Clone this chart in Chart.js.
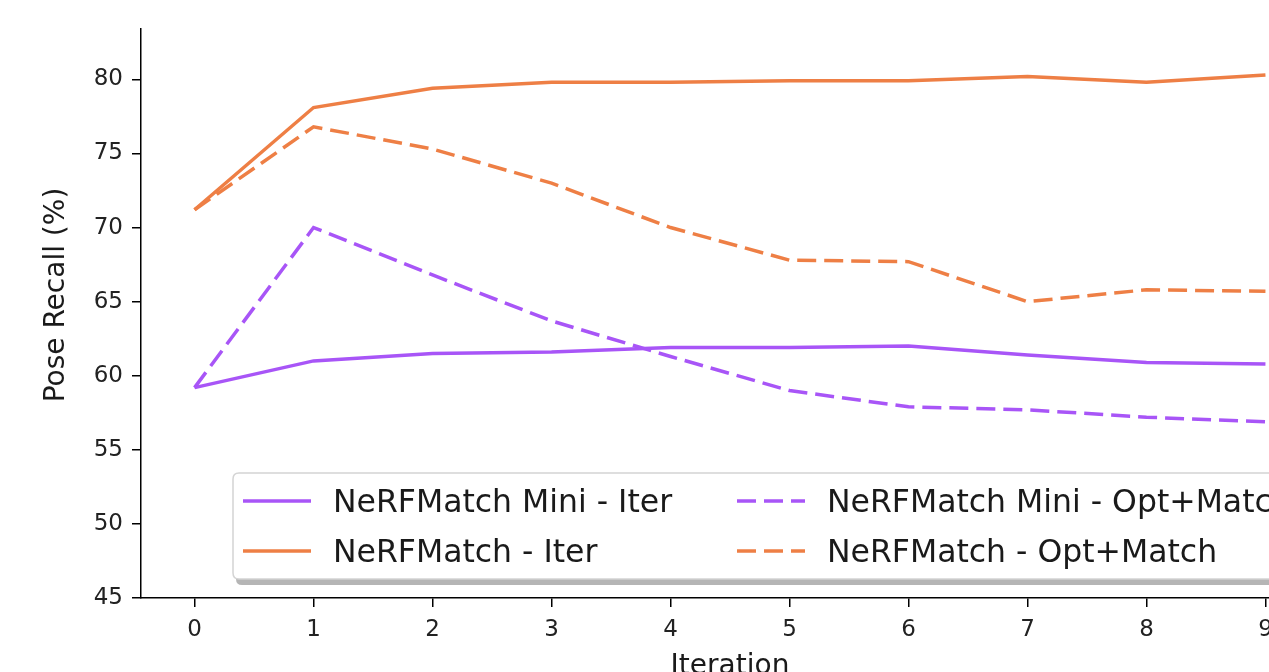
<!DOCTYPE html>
<html><head><meta charset="utf-8">
<script src="https://cdn.jsdelivr.net/npm/chart.js@4/dist/chart.umd.min.js"></script>
<style>
html,body{margin:0;padding:0;background:#fff;overflow:hidden;width:1269px;height:672px}
#wrap{position:absolute;left:0;top:0;width:1340px;height:672px}
canvas{display:block}
</style></head><body>
<div id="wrap"><canvas id="c" width="1340" height="672"></canvas></div>
<script>
// ---- data ----
const iterations = [0, 1, 2, 3, 4, 5, 6, 7, 8, 9];
const miniIter   = [59.2, 61.0, 61.5, 61.6, 61.9, 61.9, 62.0, 61.4, 60.9, 60.8];
const fullIter   = [71.2, 78.1, 79.4, 79.8, 79.8, 79.9, 79.9, 80.2, 79.8, 80.3];
const miniOpt    = [59.2, 70.0, 66.8, 63.7, 61.3, 59.0, 57.9, 57.7, 57.2, 56.9];
const fullOpt    = [71.2, 76.8, 75.3, 73.0, 70.0, 67.8, 67.7, 65.0, 65.8, 65.7];
const seriesLabels = ['NeRFMatch Mini - Iter', 'NeRFMatch - Iter', 'NeRFMatch Mini - Opt+Match', 'NeRFMatch - Opt+Match'];
const yTickValues = [45, 50, 55, 60, 65, 70, 75, 80];
const xTickValues = iterations;
const xTitle = 'Iteration';
const yTitle = 'Pose Recall (%)';

const PURPLE = '#a855f7';
const ORANGE = '#ee7f45';
const FONT = '"DejaVu Sans", "Liberation Sans", sans-serif';

const toPts = ys => iterations.map((x, i) => ({x: x, y: ys[i]}));

function rr(ctx, x, y, w, h, r) {
  ctx.beginPath();
  ctx.moveTo(x + r, y);
  ctx.lineTo(x + w - r, y); ctx.quadraticCurveTo(x + w, y, x + w, y + r);
  ctx.lineTo(x + w, y + h - r); ctx.quadraticCurveTo(x + w, y + h, x + w - r, y + h);
  ctx.lineTo(x + r, y + h); ctx.quadraticCurveTo(x, y + h, x, y + h - r);
  ctx.lineTo(x, y + r); ctx.quadraticCurveTo(x, y, x + r, y);
  ctx.closePath();
}

const mplDecor = {
  id: 'mplDecor',
  afterDraw(chart) {
    const ctx = chart.ctx;
    ctx.save();
    // y axis title
    ctx.translate(57, 295);
    ctx.rotate(-Math.PI / 2);
    ctx.font = '28px ' + FONT;
    ctx.fillStyle = '#1a1a1a';
    ctx.textAlign = 'center';
    ctx.textBaseline = 'middle';
    ctx.fillText(yTitle, 0, 0);
    ctx.restore();

    // legend
    ctx.save();
    const x0 = 233, y0 = 473, w = 1075, h = 106, r = 6;
    ctx.fillStyle = 'rgba(120,120,120,0.55)';
    rr(ctx, x0 + 3, y0 + 6, w, h, r); ctx.fill();
    ctx.fillStyle = '#ffffff';
    rr(ctx, x0, y0, w, h, r); ctx.fill();
    ctx.strokeStyle = '#d4d4d4'; ctx.lineWidth = 1.5; ctx.stroke();
    const colX = [243, 737], rowY = [501, 551];
    chart.data.datasets.forEach((ds, i) => {
      const cx = colX[Math.floor(i / 2)], cy = rowY[i % 2];
      ctx.beginPath();
      ctx.setLineDash(ds.borderDash || []);
      ctx.strokeStyle = ds.borderColor;
      ctx.lineWidth = ds.borderWidth;
      ctx.lineCap = 'butt';
      ctx.moveTo(cx, cy); ctx.lineTo(cx + 68, cy); ctx.stroke();
      ctx.setLineDash([]);
      ctx.font = '31.5px ' + FONT;
      ctx.fillStyle = '#1a1a1a';
      ctx.textAlign = 'left';
      ctx.textBaseline = 'alphabetic';
      ctx.fillText(ds.label, cx + 90, cy + 11);
    });
    ctx.restore();
  }
};

new Chart(document.getElementById('c'), {
  type: 'line',
  data: {
    datasets: [
      {label: seriesLabels[0], data: toPts(miniIter), borderColor: PURPLE, borderWidth: 3.5, borderDash: [], order: 1},
      {label: seriesLabels[1], data: toPts(fullIter), borderColor: ORANGE, borderWidth: 3.5, borderDash: [], order: 2},
      {label: seriesLabels[2], data: toPts(miniOpt), borderColor: PURPLE, borderWidth: 3.5, borderDash: [19, 8], order: 3},
      {label: seriesLabels[3], data: toPts(fullOpt), borderColor: ORANGE, borderWidth: 3.5, borderDash: [19, 8], order: 4}
    ].map(d => Object.assign({pointRadius: 0, pointHoverRadius: 0, tension: 0, fill: false, borderCapStyle: 'butt'}, d))
  },
  options: {
    responsive: false,
    animation: false,
    events: [],
    layout: {padding: {top: 29, right: 21, left: 0, bottom: 0}},
    plugins: {legend: {display: false}, tooltip: {enabled: false}},
    scales: {
      x: {
        type: 'linear', min: -0.45, max: 9.45,
        afterBuildTicks: s => { s.ticks = xTickValues.map(v => ({value: v})); },
        afterFit: s => { s.height = 74; },
        ticks: {stepSize: 1, autoSkip: false, maxRotation: 0, padding: 9, color: '#222', font: {family: FONT, size: 23},
                callback: v => String(v)},
        grid: {display: true, drawOnChartArea: false, drawTicks: true, tickLength: 9, color: '#000', lineWidth: 1.5},
        border: {display: true, color: '#000', width: 1.5},
        title: {display: true, text: xTitle, color: '#1a1a1a', font: {family: FONT, size: 28}, padding: {top: 0, bottom: -12}}
      },
      y: {
        type: 'linear', min: 45, max: 83.4,
        afterBuildTicks: s => { s.ticks = yTickValues.map(v => ({value: v})); },
        afterFit: s => { s.width = 141; },
        ticks: {stepSize: 5, padding: 9, color: '#222', font: {family: FONT, size: 23}, callback: v => String(v)},
        grid: {display: true, drawOnChartArea: false, drawTicks: true, tickLength: 9, color: '#000', lineWidth: 1.5},
        border: {display: true, color: '#000', width: 1.5}
      }
    }
  },
  plugins: [mplDecor]
});
</script>
</body></html>
